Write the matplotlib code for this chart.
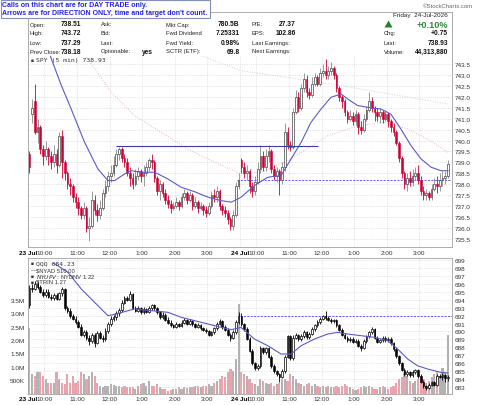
import numpy as np
import matplotlib
matplotlib.use('Agg')
import matplotlib.pyplot as plt
from matplotlib.patches import Rectangle, Polygon

plt.rcParams['font.family'] = ['Liberation Sans', 'DejaVu Sans']

# ---- SPY 5 min, 23 Jul (bars 0-77) and 24 Jul (bars 78-154) ----
spy_open = [739.4, 741.2, 741.8, 740.4, 740.6, 739.6, 739.3, 739.6, 739.3, 739.0,
            739.4, 738.9, 740.2, 739.0, 738.5, 738.0, 737.9, 737.4, 737.2, 736.9,
            736.6, 736.9, 736.0, 736.1, 737.3, 736.8, 736.6, 736.9, 737.6, 737.9,
            738.4, 738.5, 738.9, 739.4, 739.6, 739.2, 739.0, 738.5, 738.3, 738.0,
            738.4, 738.6, 738.4, 738.5, 738.8, 739.1, 739.0, 738.3, 737.7, 738.0,
            737.6, 737.3, 737.1, 736.9, 737.0, 737.2, 737.0, 737.4, 737.6, 737.3,
            737.5, 737.0, 737.2, 736.9, 737.0, 736.8, 736.7, 737.0, 737.5, 737.4,
            737.7, 737.0, 736.8, 736.7, 736.4, 736.1, 736.6, 737.9,
            739.1, 738.8, 738.5, 738.6, 737.9, 737.7, 738.1, 738.7, 739.3, 738.8,
            739.3, 739.5, 738.7, 738.4, 738.6, 738.2, 738.8, 740.4, 739.8, 739.7,
            741.3, 742.0, 741.5, 742.4, 742.8, 742.2, 742.1, 742.6, 742.9, 742.6,
            743.1, 743.2, 743.0, 743.2, 743.3, 743.0, 742.4, 742.0, 741.8, 741.3,
            741.0, 741.1, 740.9, 741.2, 740.6, 740.5, 741.0, 741.4, 741.8, 741.5,
            741.3, 741.1, 741.3, 741.0, 741.2, 740.9, 740.6, 740.4, 739.9, 739.2,
            738.5, 738.0, 738.3, 738.1, 738.4, 738.5, 738.2, 737.7, 737.5, 737.6,
            737.4, 737.8, 738.0, 737.9, 738.2, 738.3, 738.4]
spy_high = [739.5, 741.9, 742.6, 741.0, 740.7, 739.8, 740.0, 739.7, 739.5, 739.8,
            739.6, 740.4, 740.5, 739.1, 738.6, 738.3, 738.0, 737.6, 737.4, 737.0,
            737.2, 737.0, 736.5, 737.7, 737.5, 737.1, 737.3, 737.8, 738.2, 738.6,
            738.9, 739.3, 739.6, 739.7, 739.7, 739.4, 739.2, 738.8, 738.5, 738.7,
            738.8, 738.7, 738.9, 739.0, 739.2, 739.4, 739.1, 738.4, 738.2, 738.1,
            737.8, 737.5, 737.3, 737.2, 737.4, 737.3, 737.6, 737.8, 737.7, 737.7,
            737.6, 737.4, 737.3, 737.2, 737.1, 737.0, 737.2, 737.7, 737.8, 737.9,
            737.8, 737.1, 737.0, 736.8, 736.5, 736.8, 738.1, 738.5,
            739.2, 739.0, 738.9, 738.7, 738.1, 738.4, 739.0, 739.8, 739.5, 739.6,
            739.8, 739.6, 738.9, 738.8, 738.7, 739.0, 740.8, 740.6, 740.0, 741.5,
            742.3, 742.2, 742.6, 743.1, 743.0, 742.4, 742.9, 743.1, 743.0, 743.3,
            743.5, 743.72, 743.4, 743.6, 743.4, 743.1, 742.5, 742.1, 741.9, 741.4,
            741.4, 741.3, 741.4, 741.3, 740.9, 741.2, 741.6, 742.2, 742.0, 741.6,
            741.5, 741.5, 741.4, 741.4, 741.3, 741.0, 740.8, 740.5, 740.0, 739.3,
            738.6, 738.5, 738.6, 738.7, 738.8, 738.9, 738.4, 737.9, 737.8, 737.7,
            738.0, 738.3, 738.4, 738.5, 738.6, 738.6, 739.1]
spy_low = [738.5, 740.8, 740.3, 739.9, 739.4, 738.9, 739.1, 738.9, 738.7, 738.8,
           738.5, 738.8, 738.3, 738.2, 737.8, 737.5, 737.2, 736.9, 736.6, 736.4,
           736.4, 735.8, 735.4, 736.0, 736.6, 736.3, 736.4, 736.8, 737.4, 737.7,
           738.1, 738.4, 738.8, 739.1, 739.0, 738.8, 738.4, 737.9, 737.8, 737.9,
           738.2, 738.1, 737.9, 738.4, 738.6, 738.7, 738.1, 737.5, 737.3, 737.4,
           737.1, 736.9, 736.7, 736.8, 736.9, 736.8, 736.9, 737.3, 737.1, 737.2,
           736.8, 736.9, 736.7, 736.8, 736.6, 736.5, 736.6, 736.9, 737.2, 737.2,
           736.8, 736.6, 736.5, 736.2, 735.9, 735.9, 736.5, 737.8,
           738.5, 738.3, 738.2, 737.6, 737.4, 737.5, 738.0, 738.5, 738.6, 738.6,
           739.0, 738.5, 738.2, 738.1, 737.5, 738.0, 738.6, 739.6, 739.5, 739.6,
           741.2, 741.3, 741.4, 742.2, 742.0, 741.9, 742.0, 742.5, 742.5, 742.5,
           742.9, 742.8, 742.8, 743.0, 742.8, 742.2, 741.8, 741.5, 741.1, 740.8,
           740.9, 740.7, 740.7, 740.3, 740.3, 740.4, 740.9, 741.3, 741.3, 740.9,
           740.9, 740.8, 740.8, 740.9, 740.6, 740.4, 740.2, 739.8, 739.0, 738.3,
           737.8, 737.7, 737.9, 737.9, 738.2, 738.0, 737.5, 737.3, 737.3, 737.29,
           737.3, 737.7, 737.6, 737.7, 737.9, 738.0, 738.3]
spy_close = [738.8, 741.5, 740.4, 740.6, 739.6, 739.3, 739.6, 739.3, 739.0, 739.4,
             738.9, 740.2, 739.0, 738.5, 738.0, 737.9, 737.4, 737.2, 736.9, 736.6,
             736.9, 736.0, 736.1, 737.3, 736.8, 736.6, 736.9, 737.6, 737.9, 738.4,
             738.5, 738.9, 739.4, 739.6, 739.2, 739.0, 738.5, 738.3, 738.0, 738.4,
             738.6, 738.4, 738.5, 738.8, 739.1, 739.0, 738.3, 737.7, 738.0, 737.6,
             737.3, 737.1, 736.9, 737.0, 737.2, 737.0, 737.4, 737.6, 737.3, 737.5,
             737.0, 737.2, 736.9, 737.0, 736.8, 736.7, 737.0, 737.5, 737.4, 737.7,
             737.0, 736.8, 736.7, 736.4, 736.1, 736.6, 737.9, 738.18,
             738.8, 738.5, 738.6, 737.9, 737.7, 738.1, 738.7, 739.3, 738.8, 739.3,
             739.5, 738.7, 738.4, 738.6, 738.2, 738.8, 740.4, 739.8, 739.7, 741.3,
             742.0, 741.5, 742.4, 742.8, 742.2, 742.1, 742.6, 742.9, 742.6, 743.1,
             743.2, 743.0, 743.2, 743.3, 743.0, 742.4, 742.0, 741.8, 741.3, 741.0,
             741.1, 740.9, 741.2, 740.6, 740.5, 741.0, 741.4, 741.8, 741.5, 741.3,
             741.1, 741.3, 741.0, 741.2, 740.9, 740.6, 740.4, 739.9, 739.2, 738.5,
             738.0, 738.3, 738.1, 738.4, 738.5, 738.2, 737.7, 737.5, 737.6, 737.4,
             737.8, 738.0, 737.9, 738.2, 738.3, 738.4, 738.93]
# volume in millions
spy_vol = [2.44, 0.72, 0.67, 0.80, 0.82, 0.66, 0.54, 0.41, 0.41, 0.38,
           0.79, 0.54, 0.41, 0.35, 0.72, 0.41, 0.66, 0.41, 0.45, 0.79,
           0.72, 0.54, 0.66, 0.79, 0.66, 0.41, 0.29, 0.26, 0.28, 0.29,
           0.35, 0.32, 0.29, 0.29, 0.26, 0.29, 0.23, 0.26, 0.23, 0.16,
           0.29, 0.35, 0.41, 0.29, 0.48, 0.29, 0.29, 0.35, 0.23, 0.16,
           0.16, 0.10, 0.13, 0.16, 0.16, 0.23, 0.16, 0.23, 0.20, 0.23,
           0.26, 0.29, 0.29, 0.26, 0.29, 0.29, 0.35, 0.29, 0.41, 0.48,
           0.54, 0.66, 0.60, 0.79, 0.91, 0.85, 1.29, 3.35,
           0.79, 0.72, 0.66, 0.54, 0.41, 0.35, 0.29, 0.54, 0.48, 0.41,
           0.35, 0.41, 0.29, 0.35, 0.41, 0.54, 0.54, 0.48, 0.72, 0.66,
           0.54, 0.41, 0.35, 0.29, 0.35, 0.41, 0.29, 0.35, 0.29, 0.23,
           0.29, 0.23, 0.29, 0.23, 0.26, 0.29, 0.23, 0.29, 0.35, 0.29,
           0.23, 0.16, 0.13, 0.16, 0.23, 0.29, 0.23, 0.29, 0.23, 0.16,
           0.16, 0.23, 0.29, 0.23, 0.16, 0.23, 0.29, 0.41, 0.54, 0.60,
           0.79, 0.66, 0.48, 0.41, 0.48, 0.54, 0.66, 0.54, 0.41, 0.48,
           0.60, 0.72, 0.85, 0.66, 0.97, 0.79, 2.20]

# ---- QQQ 5 min ----
qqq_open = [693.3, 695.5, 695.4, 696.0, 695.6, 695.0, 694.6, 695.0, 694.4, 694.2,
            694.6, 694.1, 694.8, 695.3, 692.9, 692.6, 691.9, 691.6, 691.2, 690.6,
            689.6, 689.9, 689.2, 688.8, 689.5, 688.6, 689.8, 689.2, 689.0, 690.1,
            690.9, 691.6, 691.8, 692.3, 692.7, 693.6, 694.2, 694.0, 694.7, 693.0,
            692.6, 692.9, 692.4, 692.8, 692.5, 692.9, 693.3, 692.9, 692.4, 691.8,
            692.1, 691.5, 691.1, 690.8, 690.6, 690.9, 690.7, 691.1, 691.4, 691.0,
            691.3, 690.9, 690.6, 690.8, 690.4, 690.2, 690.0, 689.6, 689.9, 690.4,
            691.0, 691.3, 690.5, 690.2, 689.6, 689.2, 689.9, 691.2,
            692.0, 690.9, 690.3, 689.1, 687.6, 686.0, 685.4, 685.6, 687.9, 687.4,
            687.9, 686.8, 685.6, 685.0, 684.6, 684.3, 685.0, 686.8, 689.4, 686.6,
            689.2, 689.5, 689.0, 689.4, 689.9, 689.3, 689.7, 690.3, 690.8, 691.2,
            691.6, 691.9, 691.7, 691.5, 691.3, 691.4, 690.8, 690.2, 689.6, 689.2,
            688.9, 689.1, 688.7, 688.8, 688.2, 687.9, 688.8, 689.4, 689.9, 690.3,
            689.2, 688.7, 688.9, 689.2, 688.9, 689.1, 688.5, 687.8, 686.9, 686.0,
            685.2, 684.6, 684.9, 684.5, 684.9, 685.1, 684.4, 683.7, 683.1, 682.9,
            683.3, 683.6, 683.3, 684.4, 684.3, 684.5, 684.1]
qqq_high = [695.8, 696.0, 696.3, 696.3, 695.9, 695.3, 695.3, 695.3, 694.7, 694.9,
            694.9, 695.0, 695.6, 695.5, 693.2, 692.9, 692.2, 691.9, 691.5, 690.9,
            690.2, 690.2, 689.5, 689.8, 689.8, 690.1, 690.1, 689.5, 690.4, 691.2,
            691.9, 692.1, 692.6, 693.0, 693.9, 694.5, 694.5, 695.1, 694.9, 693.2,
            693.2, 693.1, 693.1, 692.9, 693.2, 693.5, 693.5, 693.1, 692.6, 692.4,
            692.3, 691.8, 691.4, 691.0, 691.2, 691.1, 691.4, 691.7, 691.6, 691.6,
            691.5, 691.1, 691.1, 690.9, 690.6, 690.4, 690.2, 690.1, 690.6, 691.2,
            691.6, 691.5, 690.8, 690.4, 689.8, 690.2, 691.5, 692.5,
            692.3, 691.1, 690.5, 689.3, 687.8, 686.2, 685.9, 688.2, 688.1, 688.1,
            688.1, 687.0, 685.9, 685.2, 684.8, 685.3, 687.1, 689.6, 689.6, 689.5,
            689.8, 689.7, 689.7, 690.2, 690.1, 689.9, 690.5, 691.0, 691.4, 691.8,
            692.1, 692.6, 691.9, 691.7, 691.6, 691.6, 691.0, 690.4, 689.8, 689.4,
            689.3, 689.3, 689.0, 689.0, 688.4, 689.0, 689.6, 690.1, 690.5, 690.4,
            689.4, 689.1, 689.4, 689.4, 689.3, 689.3, 688.7, 688.0, 687.1, 686.2,
            685.4, 685.1, 685.0, 685.1, 685.3, 685.3, 684.6, 683.9, 683.3, 683.5,
            683.8, 683.8, 684.6, 684.7, 684.8, 684.7, 684.5]
qqq_low = [693.0, 695.0, 695.2, 695.3, 694.8, 694.4, 694.4, 694.2, 694.0, 694.0,
           693.9, 693.9, 694.5, 692.7, 692.3, 691.7, 691.4, 691.0, 690.4, 689.4,
           689.3, 688.9, 688.3, 688.6, 688.0, 688.4, 689.0, 688.7, 688.8, 689.8,
           690.7, 691.3, 691.5, 692.0, 692.5, 693.4, 693.8, 693.8, 692.8, 692.4,
           692.4, 692.2, 692.2, 692.3, 692.3, 692.7, 692.7, 692.2, 691.6, 691.6,
           691.3, 690.9, 690.6, 690.4, 690.4, 690.5, 690.5, 690.9, 690.8, 690.8,
           690.7, 690.4, 690.4, 690.2, 690.0, 689.8, 689.4, 689.4, 689.7, 690.2,
           690.8, 690.3, 690.0, 689.4, 688.8, 689.0, 689.7, 691.0,
           690.7, 690.1, 688.9, 687.4, 685.8, 685.1, 685.2, 685.4, 687.2, 687.2,
           686.6, 685.4, 684.8, 684.4, 683.6, 684.1, 684.8, 686.6, 686.4, 686.4,
           689.0, 688.8, 688.8, 689.2, 689.1, 689.1, 689.5, 690.1, 690.6, 691.0,
           691.4, 691.5, 691.3, 691.1, 691.1, 690.6, 690.0, 689.4, 689.0, 688.7,
           688.7, 688.5, 688.5, 688.0, 687.6, 687.8, 688.6, 689.2, 689.7, 689.0,
           688.5, 688.5, 688.7, 688.7, 688.7, 688.3, 687.6, 686.7, 685.8, 685.0,
           684.4, 684.4, 684.3, 684.3, 684.7, 684.2, 683.5, 682.9, 682.6, 682.7,
           683.1, 683.1, 683.1, 684.1, 683.9, 683.6, 683.8]
qqq_close = [695.5, 695.4, 696.0, 695.6, 695.0, 694.6, 695.0, 694.4, 694.2, 694.6,
             694.1, 694.8, 695.3, 692.9, 692.6, 691.9, 691.6, 691.2, 690.6, 689.6,
             689.9, 689.2, 688.8, 689.5, 688.6, 689.8, 689.2, 689.0, 690.1, 690.9,
             691.6, 691.8, 692.3, 692.7, 693.6, 694.2, 694.0, 694.7, 693.0, 692.6,
             692.9, 692.4, 692.8, 692.5, 692.9, 693.3, 692.9, 692.4, 691.8, 692.1,
             691.5, 691.1, 690.8, 690.6, 690.9, 690.7, 691.1, 691.4, 691.0, 691.3,
             690.9, 690.6, 690.8, 690.4, 690.2, 690.0, 689.6, 689.9, 690.4, 691.0,
             691.3, 690.5, 690.2, 689.6, 689.2, 689.9, 691.2, 691.9,
             690.9, 690.3, 689.1, 687.6, 686.0, 685.4, 685.6, 687.9, 687.4, 687.9,
             686.8, 685.6, 685.0, 684.6, 684.3, 685.0, 686.8, 689.4, 686.6, 689.2,
             689.5, 689.0, 689.4, 689.9, 689.3, 689.7, 690.3, 690.8, 691.2, 691.6,
             691.9, 691.7, 691.5, 691.3, 691.4, 690.8, 690.2, 689.6, 689.2, 688.9,
             689.1, 688.7, 688.8, 688.2, 687.9, 688.8, 689.4, 689.9, 690.3, 689.2,
             688.7, 688.9, 689.2, 688.9, 689.1, 688.5, 687.8, 686.9, 686.0, 685.2,
             684.6, 684.9, 684.5, 684.9, 685.1, 684.4, 683.7, 683.1, 682.9, 683.3,
             683.6, 683.3, 684.4, 684.3, 684.5, 684.1, 684.23]

# moving averages (bar index, price)
spy_ma_x = [4, 8.1, 11.8, 15.4, 20.3, 25.2, 28.9, 31.4, 35.0, 37.5, 41.2, 46.1, 51.0, 55.9,
            60.8, 65.7, 70.6, 74.3, 76.7, 77.9, 82.8, 87.7, 92.6, 96.3, 100.0, 103.6,
            107.3, 111.0, 114.7, 117.1, 120.8, 124.5, 129.4, 133.0, 136.7, 140.4,
            144.1, 147.8, 151.4, 154.0]
spy_ma_y = [745.3, 743.73, 742.51, 741.44, 739.92, 738.70, 738.17, 738.17, 738.47, 738.62,
            738.55, 738.55, 738.24, 737.86, 737.66, 737.41, 737.25, 737.18, 737.33,
            737.41, 737.94, 738.32, 738.40, 739.16, 739.92, 740.83, 741.44, 741.98,
            742.13, 741.90, 741.60, 741.52, 741.44, 741.21, 740.53, 739.77, 739.16,
            738.78, 738.62, 738.62]
spy_ma2_x = [10, 21.6, 30.1, 38.7, 48.5, 58.3, 68.1, 77.9, 85.3, 96.3, 109.8, 120.8,
             130.6, 139.2, 146.5, 154.0]
spy_ma2_y = [745.3, 743.73, 742.21, 741.14, 740.38, 739.61, 739.01, 738.47, 738.55,
             739.16, 740.22, 740.68, 740.83, 740.53, 740.07, 739.46]
spy_ma3_x = [40, 63.2, 77.9, 114.7, 154.0]
spy_ma3_y = [744.6, 743.88, 743.2, 742.51, 741.67]
qqq_ma_x = [9, 14.2, 19.1, 24.0, 28.9, 32.0, 36.3, 38.7, 44.8, 51.0, 55.9, 60.8, 65.7,
            70.6, 74.3, 77.9, 82.8, 87.7, 92.6, 96.3, 100.0, 104.9, 109.8, 113.4,
            117.1, 122.0, 126.9, 131.8, 135.5, 139.2, 142.8, 146.5, 151.4, 154.0]
qqq_ma_y = [698.6, 697.45, 695.35, 693.67, 691.99, 692.2, 692.62, 692.83, 692.62,
            692.41, 691.78, 691.36, 690.94, 690.52, 690.23, 690.5, 689.05, 688.21,
            687.16, 687.16, 688.21, 689.05, 689.68, 689.89, 689.68, 689.47, 689.26,
            688.84, 687.79, 686.53, 685.69, 685.27, 684.85, 684.77]

spy_prev_close = 738.18
qqq_prev_close = 691.9
resist_level = 739.75

time_ticks = [-0.5, 5.5, 17.5, 29.5, 41.5, 53.5, 65.5, 77.5, 83.5, 95.5, 107.5, 119.5, 131.5, 143.5]
time_labels = ['23 Jul', '10:00', '11:00', '12:00', '1:00', '2:00', '3:00',
               '24 Jul', '10:00', '11:00', '12:00', '1:00', '2:00', '3:00']
price_ticks = [735.5, 736.0, 736.5, 737.0, 737.5, 738.0, 738.5, 739.0, 739.5,
               740.0, 740.5, 741.0, 741.5, 742.0, 742.5, 743.0, 743.5]
qqq_ticks = list(range(683, 700))
vol_ticks = [0.5, 1.0, 1.5, 2.0, 2.5, 3.0, 3.5]
vol_labels = ['500K', '1.0M', '1.5M', '2.0M', '2.5M', '3.0M', '3.5M']

W, H = 480, 406
fig = plt.figure(figsize=(W / 100, H / 100), dpi=100)


def fx(px):
    return px / W


def fy(py):
    return 1 - py / H


def candles(ax, o, h, l, c, down_col, up_edge, up_wick, minh):
    o, h, l, c = map(np.asarray, (o, h, l, c))
    x = np.arange(len(o))
    dn = c < o
    ax.vlines(x[dn], l[dn], h[dn], color=down_col, lw=0.6, zorder=3)
    ax.vlines(x[~dn], l[~dn], h[~dn], color=up_wick, lw=0.6, zorder=3)
    lo = np.minimum(o, c)
    bh = np.maximum(np.abs(c - o), minh)
    ax.bar(x[dn], bh[dn], 0.62, bottom=lo[dn], facecolor=down_col,
           edgecolor=down_col, lw=0.4, zorder=4)
    ax.bar(x[~dn], bh[~dn], 0.62, bottom=lo[~dn], facecolor='white',
           edgecolor=up_edge, lw=0.5, zorder=4)


def style(ax):
    for s in ax.spines.values():
        s.set_color('#a0a0a0')
        s.set_linewidth(0.6)
    ax.set_xlim(-0.5, 155.5)
    ax.set_xticks(time_ticks)
    ax.set_xticklabels(time_labels)
    for t in ax.get_xticklabels():
        t.set_fontsize(4.6)
        t.set_color('#333333')
        if 'Jul' in t.get_text():
            t.set_fontweight('bold')
            t.set_color('black')
    ax.tick_params(axis='x', length=0, pad=2)
    ax.grid(True, axis='x', color='#cccccc', ls=':', lw=0.5)


# ---------------- top panel: SPY ----------------
ax1 = fig.add_axes([fx(28), fy(248), (452 - 28) / W, (248 - 13) / H])
style(ax1)
ax1.set_ylim(735.13, 745.88)
ax1.yaxis.tick_right()
ax1.set_yticks(price_ticks)
ax1.set_yticklabels(['%.1f' % p for p in price_ticks])
ax1.tick_params(axis='y', length=0, pad=2, labelsize=4.6, labelcolor='#333333')
ax1.grid(True, axis='y', color='#cccccc', ls=':', lw=0.5)

ax1.plot(spy_ma3_x, spy_ma3_y, color='#c9d6c0', ls=':', lw=0.7, zorder=2)
ax1.plot(spy_ma2_x, spy_ma2_y, color='#eab4bc', ls=':', lw=0.7, zorder=2)
ax1.plot(spy_ma_x, spy_ma_y, color='#5a5ac8', lw=0.8, zorder=5)
ax1.hlines(resist_level, 32, 106.3, color='#3a3aa8', lw=0.8, zorder=5)
ax1.hlines(spy_prev_close, 76.5, 155.5, color='#5555ff', lw=0.7, ls=(0, (2, 1.5)), zorder=2)
candles(ax1, spy_open, spy_high, spy_low, spy_close, '#cc0033', '#444444', '#888888', 0.03)

# ---------------- bottom panel: volume + QQQ ----------------
axv = fig.add_axes([fx(28), fy(394.5), (452 - 28) / W, (394.5 - 259) / H])
style(axv)
axv.set_ylim(0, 5.08)
axv.set_yticks(vol_ticks)
axv.set_yticklabels(vol_labels)
axv.tick_params(axis='y', length=0, pad=2, labelsize=4.6, labelcolor='#333333')
vol_cols = ['#e8a3ad' if c < o else '#b2b2b2' for o, c in zip(spy_open, spy_close)]
axv.bar(np.arange(len(spy_vol)), spy_vol, 0.8, color=vol_cols, zorder=1)

ax2 = axv.twinx()
ax2.set_xlim(-0.5, 155.5)
ax2.set_ylim(682.19, 699.25)
ax2.set_yticks(qqq_ticks)
ax2.tick_params(axis='y', length=0, pad=2, labelsize=4.6, labelcolor='#333333')
ax2.grid(True, axis='y', color='#cccccc', ls=':', lw=0.5)
for s in ax2.spines.values():
    s.set_visible(False)
ax2.plot(qqq_ma_x, qqq_ma_y, color='#5a5ac8', lw=0.8, zorder=5)
ax2.hlines(qqq_prev_close, 77.5, 155.5, color='#5555ff', lw=0.7, ls=(0, (2, 1.5)), zorder=2)
candles(ax2, qqq_open, qqq_high, qqq_low, qqq_close, 'black', 'black', 'black', 0.06)

# ---------------- header / info box ----------------
fig.patches.append(Rectangle((fx(28.6), fy(57)), (451.4 - 28.6) / W, (57 - 13.6) / H,
                             transform=fig.transFigure, facecolor='white',
                             edgecolor='none', zorder=2))
fig.patches.append(Rectangle((fx(0.5), fy(19)), 209 / W, 18.5 / H,
                             transform=fig.transFigure, facecolor='white',
                             edgecolor='#8090b8', lw=0.8, zorder=3))
fig.text(fx(2.5), fy(5.5), 'Calls on this chart are for DAY TRADE only.', color='#2222dd',
         fontsize=5.0, fontweight='bold', va='center', zorder=4)
fig.text(fx(2.5), fy(13.5), "Arrows are for DIRECTION ONLY, time and target don't count.",
         color='#2222dd', fontsize=5.0, fontweight='bold', va='center', zorder=4)
fig.text(fx(473), fy(6.5), '\u00a9StockCharts.com', color='#666666', fontsize=4.3,
         ha='right', va='center')

rows = [25, 33.7, 43.3, 52]
col1 = [('Open:', '738.51'), ('High:', '743.72'), ('Low:', '737.29'), ('Prev Close:', '738.18')]
col2 = [('Ask:', ''), ('Bid:', ''), ('Last:', ''), ('Optionable:', 'yes')]
col3 = [('Mkt Cap:', '780.5B'), ('Fwd Dividend', '7.25331'), ('Fwd Yield:', '0.98%'),
        ('SCTR (ETF):', '69.8')]
col4 = [('P/E:', '27.37'), ('EPS:', '102.86'), ('Last Earnings:', ''), ('Next Earnings:', '')]
for col, lx, vx in [(col1, 29.5, 81.5), (col2, 100.5, 152.5), (col3, 166, 239.5),
                    (col4, 251.5, 296)]:
    for (lab, val), y in zip(col, rows):
        fig.text(fx(lx), fy(y), lab, fontsize=4.2, color='#222222', va='center', zorder=4)
        if val:
            fig.text(fx(vx), fy(y), val, fontsize=4.8, fontweight='bold', color='#111111',
                     ha='right', va='center', zorder=4)

fig.text(fx(448), fy(15.7), 'Friday  24-Jul-2026', fontsize=4.6, color='#222222',
         ha='right', va='center', zorder=4)
fig.patches.append(Polygon([(fx(384.5), fy(28.5)), (fx(392.5), fy(28.5)), (fx(388.5), fy(21.5))],
                           closed=True, transform=fig.transFigure, facecolor='#2e7d32',
                           edgecolor='none', zorder=4))
fig.text(fx(448), fy(25), '+0.10%', fontsize=6.6, fontweight='bold', color='#2e8b3a',
         ha='right', va='center', zorder=4)
for (lab, val), y in zip([('Chg:', '+0.75'), ('Last:', '738.93'), ('Volume:', '44,313,880')],
                         rows[1:]):
    fig.text(fx(384), fy(y), lab, fontsize=4.2, color='#222222', va='center', zorder=4)
    fig.text(fx(448), fy(y), val, fontsize=4.8, fontweight='bold', color='#111111',
             ha='right', va='center', zorder=4)

# panel legends
fig.text(fx(31), fy(60.5), '\u25a0', fontsize=3.5, color='#333333', va='center', zorder=4)
fig.text(fx(35.5), fy(60.5), 'SPY (5 min) 738.93', family='DejaVu Sans Mono', fontsize=4.6,
         color='#333333', va='center', zorder=4)
fig.text(fx(31), fy(264), '\u25a0', fontsize=3.5, color='#333333', va='center', zorder=6)
fig.text(fx(35.5), fy(264), 'QQQ 684.23', family='DejaVu Sans Mono', fontsize=4.6,
         color='#333333', va='center', zorder=6)
for y, lab, mark in [(270.7, '$NYAD 510.00', '\u2014'), (276.7, '$NYUPV:$NYDNV 1.22', '\u25a0'),
                     (282.3, '$TRIN 1.27', '\u25a0')]:
    fig.text(fx(31), fy(y), mark, fontsize=3.5, color='#333333', va='center', zorder=6)
    fig.text(fx(35.5), fy(y), lab, fontsize=4.2, color='#333333', va='center', zorder=6)

fig.savefig('out.png', dpi=100)
